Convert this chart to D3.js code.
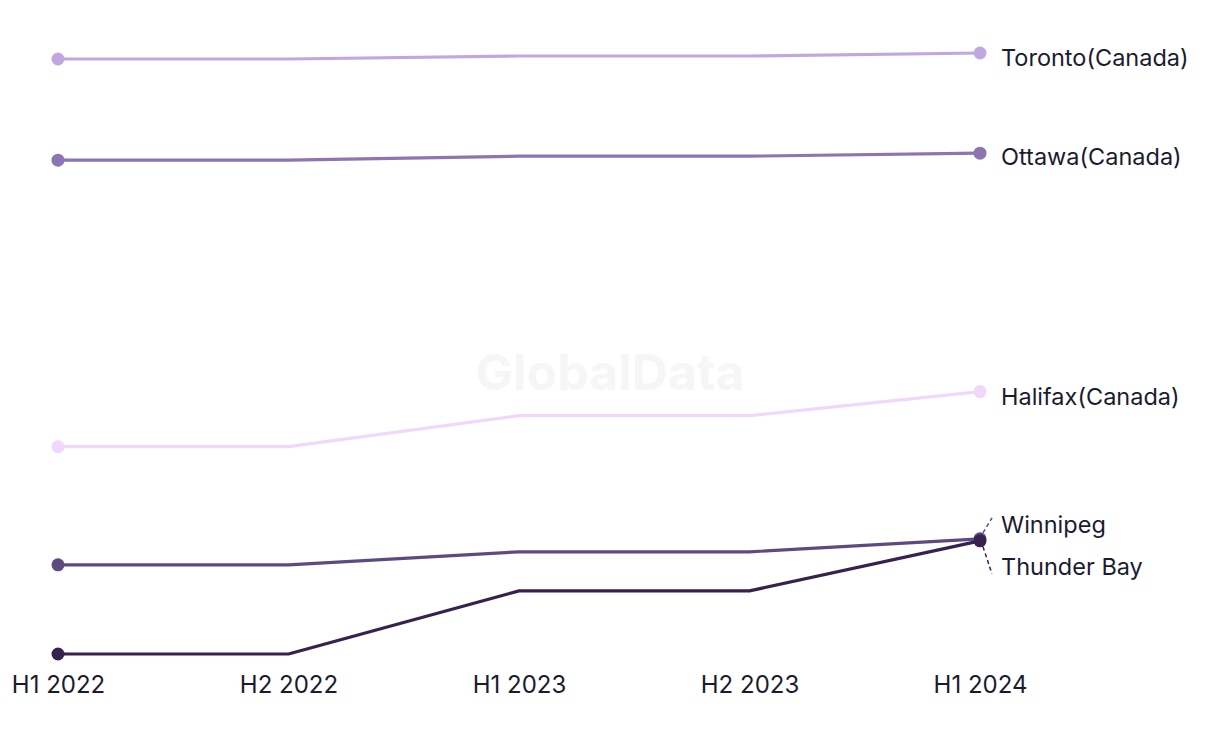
<!DOCTYPE html>
<html><head><meta charset="utf-8">
<script src="https://cdn.jsdelivr.net/npm/d3@7/dist/d3.min.js"></script>
<style>html,body{margin:0;padding:0;background:#fff;}svg{display:block;}</style>
</head><body>
<svg id="chart" width="1220" height="744"></svg>
<script>
const periods = ["H1 2022", "H2 2022", "H1 2023", "H2 2023", "H1 2024"];
const cities = ["Toronto(Canada)", "Ottawa(Canada)", "Halifax(Canada)", "Winnipeg", "Thunder Bay"];
const toronto = [59.4, 59.4, 59.7, 59.7, 60.0];
const ottawa = [49.3, 49.3, 49.7, 49.7, 50.0];
const halifax = [20.7, 20.7, 23.8, 23.8, 26.2];
const winnipeg = [8.9, 8.9, 10.2, 10.2, 11.5];
const thunderBay = [0.0, 0.0, 6.3, 6.3, 11.3];
const colors = ["#c1a7e2", "#8e74b0", "#f0d8fb", "#5e4a80", "#37214f"];
const labelOffsets = [5, 4, 5, -14, 26]; // label nudges (px)

const seriesValues = [toronto, ottawa, halifax, winnipeg, thunderBay];
const series = cities.map((c, i) => ({name: c, values: seriesValues[i], color: colors[i], dy: labelOffsets[i]}));

const svg = d3.select("#chart");
const font = "Inter, 'Noto Sans', sans-serif";

const x = d3.scalePoint().domain(periods).range([58, 980]);
const y = d3.scaleLinear().domain([0, 60]).range([654, 53]);

// watermark
svg.append("text").attr("x", 610).attr("y", 390).attr("text-anchor", "middle")
  .attr("font-family", font).attr("font-weight", 700).attr("font-size", 50)
  .attr("fill", "#f6f6f6").text("GlobalData");

const line = d3.line().x((d, i) => x(periods[i])).y(d => y(d));

const g = svg.append("g");
series.forEach(s => {
  g.append("path").attr("d", line(s.values)).attr("fill", "none")
    .attr("stroke", s.color).attr("stroke-width", 3.2).attr("stroke-linejoin", "round");
});
series.forEach(s => {
  const ends = [0, s.values.length - 1];
  g.selectAll(null).data(ends).enter().append("circle")
    .attr("cx", i => x(periods[i])).attr("cy", i => y(s.values[i])).attr("r", 6.5)
    .attr("fill", s.color);
});

// end labels
series.forEach(s => {
  const lastV = s.values[s.values.length - 1];
  const px = x(periods[periods.length - 1]);
  const py = y(lastV);
  const ly = py + s.dy;
  if (s.dy < -8 || s.dy > 8) {
    const up = s.dy < 0;
    g.append("line").attr("x1", px + 3).attr("y1", py + (up ? -6 : 6))
      .attr("x2", px + 12).attr("y2", up ? py - 21 : py + 33)
      .attr("stroke", s.color).attr("stroke-width", 1.5).attr("stroke-dasharray", "4,3");
  }
  g.append("text").attr("x", 1001).attr("y", ly).attr("dy", "0.35em")
    .attr("font-family", font).attr("font-size", 23.5).attr("fill", "#1b1b2f")
    .text(s.name);
});

// x axis
const xAxis = d3.axisBottom(x).tickSize(0).tickPadding(0);
const ax = svg.append("g").attr("transform", "translate(0,675)").call(xAxis);
ax.select(".domain").remove();
ax.selectAll("text").attr("font-family", font).attr("font-size", 24).attr("fill", "#1b1b2f").attr("dy", "0.75em");
</script>
</body></html>
